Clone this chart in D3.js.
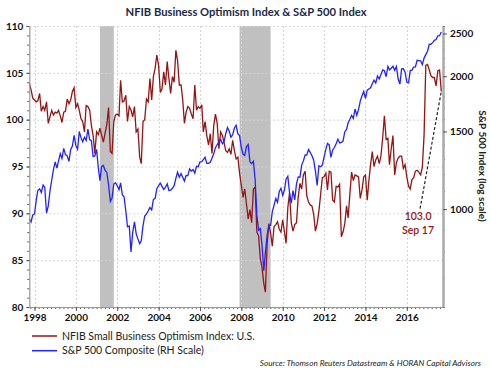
<!DOCTYPE html>
<head>
  <meta charset="utf-8">
  <script src="https://d3js.org/d3.v7.min.js"></script>
  <style>
    body { margin:0; background:#fff; }
    text { font-family: Lato, "Open Sans", sans-serif; }
  </style>
</head>

<body>
  <script>
    // monthly values, first month = Oct 1997, last = Sep 2017
    var nfib = [
      103.9, 103.2, 102.3,
      102.1, 101.9, 102.0, 102.8, 100.9, 101.4, 101.0, 101.9, 99.6, 100.3, 101.0, 100.5,
      100.8, 100.7, 101.0, 100.4, 99.7, 100.8, 100.9, 102.2, 101.7, 102.1, 103.0, 103.4,
      101.3, 101.7, 101.0, 100.1, 99.8, 98.7, 101.5, 101.4, 101.0, 99.4, 98.3, 96.4,
      98.7, 98.4, 99.1, 98.3, 97.6, 98.6, 99.5, 101.3, 96.6, 96.4, 99.8, 100.5,
      100.6, 100.4, 104.2, 101.9, 102.0, 102.6, 99.8, 101.4, 101.0, 100.3, 101.4, 98.7,
      99.0, 96.0, 95.3, 99.8, 100.0, 102.2, 101.9, 104.4, 102.1, 104.6, 105.5, 106.9,
      105.8, 102.9, 103.3, 105.1, 103.7, 106.2, 104.4, 102.8, 104.6, 104.0, 107.4, 106.3,
      103.7, 103.7, 102.2, 99.6, 100.8, 101.4, 101.2, 100.6, 100.1, 103.7, 101.0, 101.4,
      101.2, 101.6, 98.7, 99.8, 98.3, 97.3, 98.5, 96.4, 99.4, 100.6, 99.6, 96.9,
      98.7, 98.3, 97.6, 96.7, 96.5, 96.9, 96.3, 97.8, 96.7, 95.8, 96.0, 94.3,
      93.0, 91.7, 92.6, 91.0, 89.4, 90.4, 89.0, 92.6, 92.8, 88.0, 87.6, 85.2,
      84.2, 82.5, 81.6, 86.8, 88.9, 87.9, 86.5, 88.6, 88.8, 89.1, 88.3, 88.0,
      89.3, 88.0, 86.8, 90.6, 92.2, 89.0, 88.1, 88.8, 89.0, 91.7, 93.2, 92.6,
      94.1, 94.5, 91.9, 91.2, 90.9, 90.8, 89.9, 88.1, 88.9, 90.2, 92.0, 93.8,
      93.9, 94.3, 92.5, 94.5, 94.4, 91.4, 91.2, 92.9, 92.8, 93.1, 87.5, 88.0,
      88.9, 90.8, 89.5, 92.1, 94.4, 93.5, 94.1, 94.0, 93.9, 91.6, 92.5, 93.9,
      94.1, 91.4, 93.4, 95.2, 96.6, 95.0, 95.7, 96.1, 95.3, 96.1, 98.1, 100.4,
      97.9, 98.0, 95.2, 96.9, 98.3, 94.1, 95.4, 95.9, 96.1, 96.1, 94.8, 95.2,
      93.9, 92.9, 92.6, 93.6, 93.8, 94.5, 94.6, 94.4, 94.1, 94.9, 98.4, 105.8,
      105.9, 105.3, 104.7, 104.5, 104.5, 103.6, 105.2, 105.3, 103.0
    ];

    var spx = [
      950, 935, 970,
      975, 1049, 1102, 1112, 1091, 1134, 1121, 980, 1017, 1099, 1164, 1229,
      1280, 1238, 1286, 1335, 1302, 1373, 1329, 1320, 1283, 1363, 1389, 1469,
      1394, 1366, 1499, 1452, 1421, 1455, 1431, 1518, 1437, 1429, 1315, 1320,
      1366, 1240, 1160, 1249, 1256, 1224, 1211, 1134, 1041, 1060, 1140, 1148,
      1130, 1107, 1147, 1077, 1067, 990, 912, 916, 800, 886, 936, 880,
      856, 835, 848, 917, 964, 975, 990, 1008, 996, 1051, 1058, 1112,
      1131, 1145, 1126, 1107, 1121, 1141, 1102, 1104, 1115, 1130, 1174, 1212,
      1181, 1204, 1181, 1157, 1192, 1191, 1234, 1220, 1229, 1207, 1250, 1248,
      1280, 1281, 1295, 1311, 1270, 1270, 1277, 1304, 1336, 1378, 1401, 1418,
      1438, 1407, 1421, 1482, 1531, 1503, 1455, 1474, 1527, 1549, 1481, 1468,
      1379, 1331, 1323, 1386, 1400, 1280, 1267, 1283, 1166, 969, 896, 903,
      826, 725, 798, 873, 919, 919, 987, 1021, 1057, 1036, 1096, 1115,
      1074, 1105, 1169, 1187, 1089, 1031, 1102, 1049, 1141, 1183, 1181, 1258,
      1286, 1327, 1326, 1364, 1345, 1321, 1292, 1219, 1131, 1253, 1247, 1258,
      1312, 1366, 1409, 1398, 1310, 1362, 1379, 1407, 1441, 1412, 1416, 1426,
      1498, 1515, 1569, 1598, 1631, 1606, 1686, 1633, 1682, 1757, 1806, 1848,
      1783, 1860, 1872, 1884, 1924, 1960, 1931, 2003, 1972, 2018, 2068, 2059,
      1995, 2105, 2068, 2086, 2107, 2063, 2104, 1972, 1920, 2079, 2080, 2044,
      1940, 1932, 2060, 2065, 2097, 2099, 2174, 2171, 2168, 2126, 2199, 2239,
      2279, 2364, 2363, 2384, 2412, 2423, 2470, 2472, 2519
    ];

    var recessions = [["2001-03-01", "2001-11-01"], ["2007-12-01", "2009-06-01"]];
    var leftTicks = [80, 85, 90, 95, 100, 105, 110];
    var rightTicks = [1000, 1500, 2000, 2500];
    var yearTicks = [1998, 2000, 2002, 2004, 2006, 2008, 2010, 2012, 2014, 2016];
    var legendNames = ["NFIB Small Business Optimism Index: U.S.", "S&P 500 Composite (RH Scale)"];
    var noteLabel = ["103.0", "Sep 17"];
    var noteFrom = ["2016-08-22", 90.5];

    var width = 490,
    height = 373;

    var svg = d3.select("body")
    .append("svg")
    .attr("width", width)
    .attr("height", height);

    var red = "#931515", blue = "#2222ff";
    var parse = d3.timeParse("%Y-%m-%d");

    var months = d3.timeMonth.range(new Date(1997, 9, 1), new Date(2017, 9, 1));

    var x = d3.scaleTime()
    .domain([new Date(1997, 9, 1), new Date(2017, 9, 1)])
    .range([29.3, 443]);
    var yL = d3.scaleLinear().domain([80, 110]).range([307, 26]);
    var yR = d3.scaleLog().domain([600, 2600]).range([307, 26]);

    function yearDate(v) {
      var yr = Math.floor(v), a = new Date(yr, 0, 1), b = new Date(yr + 1, 0, 1);
      return new Date(+a + (v - yr) * (b - a));
    }

    // recession bars
    svg.append("g").selectAll("rect")
    .data(recessions)
    .enter()
    .append("rect")
    .attr("x", function(d) { return x(parse(d[0])); })
    .attr("width", function(d) { return x(parse(d[1])) - x(parse(d[0])); })
    .attr("y", yL(110))
    .attr("height", yL(80) - yL(110))
    .attr("fill", "#c0c0c0");

    // grid
    var grid = svg.append("g")
    .attr("stroke", "#d4d4d4")
    .attr("stroke-dasharray", "2,2")
    .attr("stroke-width", 1);
    grid.selectAll("line.h")
    .data(leftTicks.slice(1))
    .enter()
    .append("line")
    .attr("x1", x.range()[0]).attr("x2", x.range()[1])
    .attr("y1", function(d) { return yL(d) + 0.5; })
    .attr("y2", function(d) { return yL(d) + 0.5; });
    grid.selectAll("line.v")
    .data(yearTicks)
    .enter()
    .append("line")
    .attr("x1", function(d) { return Math.round(x(yearDate(d))) + 0.5; })
    .attr("x2", function(d) { return Math.round(x(yearDate(d))) + 0.5; })
    .attr("y1", yL(110)).attr("y2", yL(80));

    // series
    var lineL = d3.line()
    .x(function(d, i) { return x(months[i]); })
    .y(function(d) { return yL(d); });
    var lineR = d3.line()
    .x(function(d, i) { return x(months[i]); })
    .y(function(d) { return yR(d); });

    svg.append("path")
    .datum(nfib)
    .attr("d", lineL)
    .attr("fill", "none")
    .attr("stroke", red)
    .attr("stroke-width", 1.3);

    svg.append("path")
    .datum(spx)
    .attr("d", lineR)
    .attr("fill", "none")
    .attr("stroke", blue)
    .attr("stroke-width", 1.3);

    // axes
    function styleAxis(g, w, col) {
      g.select(".domain").attr("stroke", col).attr("stroke-width", w);
      g.selectAll(".tick line").attr("stroke", "#555");
      g.selectAll(".tick text")
      .attr("fill", "#111")
      .style("font-size", "10px")
      .style("font-weight", "bold");
    }

    var minorL = svg.append("g").attr("transform", "translate(29.3,0)")
    .call(d3.axisLeft(yL).tickValues(d3.range(80, 111, 1)).tickSize(2).tickFormat(""));
    minorL.select(".domain").remove();
    minorL.selectAll("line").attr("stroke", "#555");

    var axL = svg.append("g").attr("transform", "translate(29.3,0)")
    .call(d3.axisLeft(yL).tickValues(leftTicks).tickSize(3).tickPadding(3).tickSizeOuter(0));
    styleAxis(axL, 1.2, "#999");

    var minorB = svg.append("g").attr("transform", "translate(0,307)")
    .call(d3.axisBottom(x).tickValues(d3.range(1997.8, 2017.8, 0.2).map(yearDate)).tickSize(2).tickFormat(""));
    minorB.select(".domain").remove();
    minorB.selectAll("line").attr("stroke", "#555");

    var axB = svg.append("g").attr("transform", "translate(0,307)")
    .call(d3.axisBottom(x).tickValues(yearTicks.map(yearDate)).tickSize(4).tickPadding(3)
    .tickSizeOuter(0).tickFormat(d3.timeFormat("%Y")));
    styleAxis(axB, 1.2, "#999");

    var minorR = svg.append("g").attr("transform", "translate(443,0)")
    .call(d3.axisRight(yR).tickValues(d3.range(600, 2601, 100)).tickSize(2).tickFormat(""));
    minorR.select(".domain").remove();
    minorR.selectAll("line").attr("stroke", "#555");

    var axR = svg.append("g").attr("transform", "translate(443,0)")
    .call(d3.axisRight(yR).tickValues(rightTicks).tickSize(4).tickPadding(3)
    .tickSizeOuter(0).tickFormat(d3.format("d")));
    styleAxis(axR, 2.5, "#aaa");

    // annotation
    var last = nfib.length - 1;
    var ax0 = x(parse(noteFrom[0])), ay0 = yL(noteFrom[1]);
    svg.append("line")
    .attr("x1", ax0).attr("y1", ay0)
    .attr("x2", x(months[last])).attr("y2", yL(nfib[last]))
    .attr("stroke", "#222")
    .attr("stroke-width", 1.2)
    .attr("stroke-dasharray", "3,2");
    svg.append("g").selectAll("text")
    .data(noteLabel)
    .enter()
    .append("text")
    .attr("x", ax0 - 2)
    .attr("y", function(d, i) { return ay0 + 11 + i * 14; })
    .attr("text-anchor", "middle")
    .attr("fill", red)
    .style("font-size", "10.5px")
    .style("font-weight", "600")
    .text(function(d) { return d; });

    // title
    svg.append("text")
    .attr("x", 246).attr("y", 16)
    .attr("text-anchor", "middle")
    .attr("fill", "#1c2a45")
    .style("font-size", "12px")
    .style("font-weight", "bold")
    .attr("textLength", 241)
    .attr("lengthAdjust", "spacingAndGlyphs")
    .text("NFIB Business Optimism Index & S&P 500 Index");

    // right axis title
    svg.append("text")
    .attr("transform", "translate(479,166) rotate(90)")
    .attr("text-anchor", "middle")
    .attr("fill", "#222")
    .style("font-size", "10px")
    .style("font-weight", "bold")
    .text("S&P 500 Index (log scale)");

    // legend
    var leg = svg.append("g").selectAll("g")
    .data(legendNames)
    .enter()
    .append("g")
    .attr("transform", function(d, i) { return "translate(32," + (336 + i * 14.7) + ")"; });
    leg.append("line")
    .attr("x1", 0).attr("x2", 25)
    .attr("stroke", function(d, i) { return i ? blue : red; })
    .attr("stroke-width", 1.5);
    leg.append("text")
    .attr("x", 30).attr("dy", "0.35em")
    .attr("fill", "#222")
    .style("font-size", "10.5px")
    .text(function(d) { return d; });

    // source
    svg.append("text")
    .attr("x", 481).attr("y", 366)
    .attr("text-anchor", "end")
    .attr("fill", "#222")
    .style("font-size", "8.2px")
    .style("font-style", "italic")
    .text("Source: Thomson Reuters Datastream & HORAN Capital Advisors");
  </script>
</body>
